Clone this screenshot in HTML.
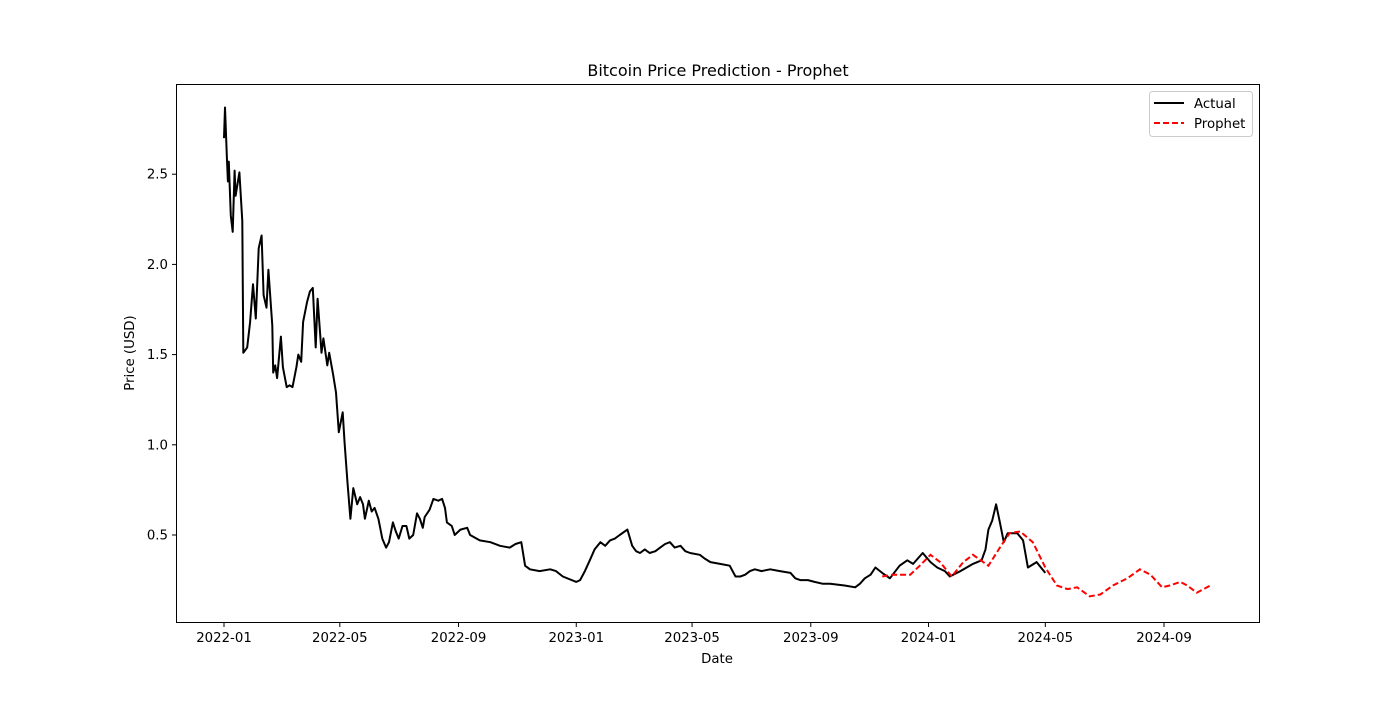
<!DOCTYPE html>
<html><head><meta charset="utf-8"><style>
body{margin:0;background:#fff;}
svg text{font-family:"DejaVu Sans","Liberation Sans",sans-serif;fill:#000;}
</style></head><body>
<svg id="chart" width="1400" height="700" xmlns="http://www.w3.org/2000/svg">
<rect x="0" y="0" width="1400" height="700" fill="#fff"/>
<text x="718" y="76" font-size="16" text-anchor="middle">Bitcoin Price Prediction - Prophet</text>
<text x="717" y="663" font-size="13.3" text-anchor="middle">Date</text>
<text x="134" y="353" font-size="13.3" text-anchor="middle" transform="rotate(-90 134 353)">Price (USD)</text>
<g id="ticks"></g>
<g id="series"></g>
<rect x="176.5" y="84.5" width="1083" height="538" fill="none" stroke="#000" stroke-width="1"/>
<g>
<rect x="1149.5" y="91.5" width="103" height="45" rx="3" fill="#fff" stroke="#ccc"/>
<line x1="1154" y1="103" x2="1184" y2="103" stroke="#000" stroke-width="2"/>
<text x="1194" y="108" font-size="13.3">Actual</text>
<line x1="1154" y1="123" x2="1184" y2="123" stroke="#f00" stroke-width="2" stroke-dasharray="6,3"/>
<text x="1194" y="128" font-size="13.3">Prophet</text>
</g>
</svg>
<script>
// days since 2022-01-01
const actualDays=[0,1,3,4,5,7,9,11,12,16,19,20,24,27,30,33,36,39,41,44,46,50,51,53,55,59,61,65,68,71,75,77,80,82,86,89,92,95,97,101,103,107,109,113,116,119,123,125,128,131,134,138,141,144,146,150,153,156,160,164,168,171,175,178,181,185,189,192,196,200,203,206,208,213,217,222,226,229,231,236,239,245,252,255,265,276,286,296,302,308,312,317,327,338,344,351,365,369,374,379,384,390,395,400,405,410,418,423,427,431,436,441,447,452,457,462,467,473,478,483,493,498,504,514,524,530,535,540,545,550,557,566,576,587,592,597,605,612,620,628,643,654,659,664,670,675,682,690,700,708,714,724,732,739,747,752,763,776,785,789,792,796,800,804,808,812,822,828,833,842,851];
const actualPrice=[2.70,2.87,2.59,2.46,2.57,2.27,2.18,2.52,2.38,2.51,2.24,1.51,1.54,1.68,1.89,1.70,2.09,2.16,1.83,1.76,1.97,1.66,1.40,1.44,1.37,1.60,1.43,1.32,1.33,1.32,1.43,1.50,1.46,1.68,1.79,1.85,1.87,1.54,1.81,1.51,1.59,1.44,1.51,1.39,1.29,1.07,1.18,1.01,0.79,0.59,0.76,0.67,0.71,0.67,0.59,0.69,0.63,0.65,0.59,0.48,0.43,0.46,0.57,0.52,0.48,0.55,0.55,0.48,0.50,0.62,0.59,0.54,0.60,0.64,0.70,0.69,0.70,0.65,0.57,0.55,0.50,0.53,0.54,0.50,0.47,0.46,0.44,0.43,0.45,0.46,0.33,0.31,0.30,0.31,0.30,0.27,0.24,0.25,0.30,0.36,0.42,0.46,0.44,0.47,0.48,0.50,0.53,0.44,0.41,0.40,0.42,0.40,0.41,0.43,0.45,0.46,0.43,0.44,0.41,0.40,0.39,0.37,0.35,0.34,0.33,0.27,0.27,0.28,0.30,0.31,0.30,0.31,0.30,0.29,0.26,0.25,0.25,0.24,0.23,0.23,0.22,0.21,0.23,0.26,0.28,0.32,0.29,0.26,0.33,0.36,0.34,0.40,0.35,0.32,0.30,0.27,0.30,0.34,0.36,0.42,0.53,0.58,0.67,0.57,0.46,0.51,0.51,0.47,0.32,0.35,0.29];
const prophetDays=[682,693,711,721,732,742,754,766,776,792,804,814,825,838,851,863,874,884,897,908,921,936,949,960,972,980,991,998,1008,1015,1022];
const prophetPrice=[0.27,0.28,0.28,0.33,0.39,0.35,0.27,0.35,0.39,0.33,0.43,0.51,0.52,0.46,0.32,0.22,0.20,0.21,0.16,0.17,0.22,0.26,0.31,0.28,0.21,0.22,0.24,0.22,0.18,0.20,0.22];
const xTickDays=[0,120,243,365,485,608,730,851,974];
const xTickLabels=["2022-01","2022-05","2022-09","2023-01","2023-05","2023-09","2024-01","2024-05","2024-09"];
const yTickValues=[0.5,1.0,1.5,2.0,2.5];
const yTickLabels=["0.5","1.0","1.5","2.0","2.5"];

const NS="http://www.w3.org/2000/svg";
const xS=d=>224+d*0.9651;
const yS=v=>625.2-v*180.4;
const ticks=document.getElementById('ticks');
xTickDays.forEach((d,i)=>{
  const x=xS(d);
  const l=document.createElementNS(NS,'line');
  l.setAttribute('x1',x);l.setAttribute('x2',x);l.setAttribute('y1',622.5);l.setAttribute('y2',627);
  l.setAttribute('stroke','#000');
  
  
  ticks.appendChild(l);
  const t=document.createElementNS(NS,'text');
  t.setAttribute('x',x);t.setAttribute('y',642);t.setAttribute('font-size','13.3');t.setAttribute('text-anchor','middle');
  t.textContent=xTickLabels[i];
  
  
  ticks.appendChild(t);
});
yTickValues.forEach((v,i)=>{
  const y=yS(v);
  const l=document.createElementNS(NS,'line');
  l.setAttribute('x1',172);l.setAttribute('x2',176.5);l.setAttribute('y1',y);l.setAttribute('y2',y);
  l.setAttribute('stroke','#000');
  
  
  ticks.appendChild(l);
  const t=document.createElementNS(NS,'text');
  t.setAttribute('x',168);t.setAttribute('y',y+4.5);t.setAttribute('font-size','13.3');t.setAttribute('text-anchor','end');
  t.textContent=yTickLabels[i];
  
  
  ticks.appendChild(t);
});
const series=document.getElementById('series');
function pts(ds,vs){return ds.map((d,i)=>xS(d).toFixed(1)+','+yS(vs[i]).toFixed(1)).join(' ');}
const a=document.createElementNS(NS,'polyline');
a.setAttribute('points',pts(actualDays,actualPrice));
a.setAttribute('fill','none');a.setAttribute('stroke','#000');a.setAttribute('stroke-width','2');a.setAttribute('stroke-linejoin','round');


series.appendChild(a);
const p=document.createElementNS(NS,'polyline');
p.setAttribute('points',pts(prophetDays,prophetPrice));
p.setAttribute('fill','none');p.setAttribute('stroke','#f00');p.setAttribute('stroke-width','2');p.setAttribute('stroke-dasharray','6,3');


series.appendChild(p);
</script>
</body></html>
